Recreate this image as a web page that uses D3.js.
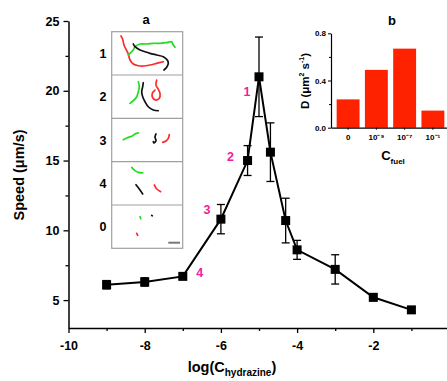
<!DOCTYPE html>
<html>
<head>
<meta charset="utf-8">
<script src="https://cdn.jsdelivr.net/npm/d3@7"></script>
<style>
  body { margin: 0; background: #fff; }
  svg { display: block; font-family: "Liberation Sans", Arial, sans-serif; font-weight: bold; }
</style>
</head>
<body>
<svg id="chart" width="447" height="381"></svg>
<script>
// main plot data
const logC = [-9, -8, -7, -6, -5.3, -5, -4.7, -4.3, -4, -3, -2, -1];
const speed = [6.1, 6.3, 6.7, 10.8, 15.0, 21.0, 15.6, 10.7, 8.6, 7.2, 5.2, 4.3];
const speedErr = [0.3, 0.3, 0.2, 1.05, 1.07, 2.85, 2.1, 1.6, 0.68, 1.05, 0.25, 0.15];
const xTicks = [-10, -8, -6, -4, -2];
const yTicks = [5, 10, 15, 20, 25];
const markLabels = ['1', '2', '3', '4'];
const markAt = [-5, -5.3, -6, -7];

// inset b data
const fuel = ['0', '10⁻⁹', '10⁻⁷', '10⁻¹'];
const diffD = [0.24, 0.49, 0.67, 0.145];
const dTicks = [0.0, 0.4, 0.8];

// inset a: trajectories per panel (panel-local units)
const rows = ['1', '2', '3', '4', '0'];
const tracks = {
  '1': {
    red: [[9.3,4.3],[11,7.6],[12.3,13.3],[15,19],[16.6,22.3],[18.3,28.3],[21.6,32.3],[26.6,34],[31.6,34.3],[38.3,33.3],[45,31.6],[51.6,30]],
    green: [[16.6,23.3],[18.3,21.6],[21.6,18.3],[23.3,15],[28.3,12.3],[35,12.3],[41.6,11.6],[48.3,11.6],[55,11],[60,10],[61,12.3],[63.3,15.6]],
    black: [[21.6,12.3],[23.3,15],[28.3,18.3],[33.3,20],[38.3,21.6],[45,23.3],[51.6,25],[55.6,28.3],[56.6,31.6],[55,35.6],[52.3,38.3]]
  },
  '2': {
    green: [[26.6,6.7],[27.6,11.7],[26.6,16.7],[25,21.7],[21.6,25.7],[18.3,28.3]],
    black: [[31.6,7.7],[31,11.7],[30,16.7],[31,21.7],[33.3,26.7],[36.6,31.7],[41.6,35],[46.6,35.7]],
    red: [[45,5],[44.3,10],[46.6,14.3],[48.3,18.3],[47.6,23.3],[44.3,25],[41,22.7],[40.6,18.3],[43.3,15]]
  },
  '3': {
    green: [[11.6,21.3],[16.6,19],[20,18],[23.3,15.6],[26.6,14.6]],
    black: [[44.3,15.6],[43.3,19],[44.3,22.3],[42.3,24.6],[41.6,23.3]],
    red: [[57.6,16.3],[56.6,20],[54.3,22.6],[51,24]]
  },
  '4': {
    green: [[20,5.7],[23.3,9],[26.6,10.7],[31,11.3]],
    black: [[24.3,23],[27.6,27.3],[31,32.3]],
    red: [[42.6,23.3],[45,27.3],[49,30]]
  },
  '0': {
    green: [[28.3,11.7],[29,13.7]],
    black: [[40,10.3],[40.6,10.8]],
    red: [[25,28.3],[26,30.3]]
  }
};
const trackColors = { red: '#ff2a2a', green: '#22dd22', black: '#111' };

const svg = d3.select('#chart');

// ---------- main plot ----------
const x = d3.scaleLinear().domain([-10, 0]).range([68.5, 449.5]);
const y = d3.scaleLinear().domain([3, 25]).range([328, 21]);

const xAxis = svg.append('g').attr('transform', 'translate(0,328)')
  .call(d3.axisBottom(x).tickValues(xTicks).tickSize(5).tickSizeOuter(0).tickPadding(8).tickFormat(d => String(d)));
svg.append('g').attr('transform', 'translate(0,328)')
  .call(d3.axisBottom(x).tickValues([-9, -7, -5, -3, -1]).tickSize(3).tickFormat(''))
  .call(g => g.select('.domain').remove());
const yAxis = svg.append('g').attr('transform', 'translate(68.5,0)')
  .call(d3.axisLeft(y).tickValues(yTicks).tickSize(5).tickSizeOuter(0).tickPadding(4));
svg.append('g').attr('transform', 'translate(68.5,0)')
  .call(d3.axisLeft(y).tickValues([7.5, 12.5, 17.5, 22.5]).tickSize(3).tickFormat(''))
  .call(g => g.select('.domain').remove());
svg.selectAll('.domain').attr('stroke', '#000').attr('stroke-width', 1.5);
svg.selectAll('.tick line').attr('stroke', '#000').attr('stroke-width', 1.3);
xAxis.selectAll('text').attr('font-size', 12.5).attr('font-weight', 'bold').attr('fill', '#000');
yAxis.selectAll('text').attr('font-size', 12.5).attr('font-weight', 'bold').attr('fill', '#000');

// axis titles
const xt = svg.append('text').attr('x', 232).attr('y', 372).attr('text-anchor', 'middle').attr('font-size', 14.5);
xt.append('tspan').text('log(C');
xt.append('tspan').attr('font-size', 10).attr('dy', 4).text('hydrazine');
xt.append('tspan').attr('dy', -4).text(')');
svg.append('text').attr('transform', 'translate(24,175) rotate(-90)')
  .attr('text-anchor', 'middle').attr('font-size', 14.5).text('Speed (μm/s)');

// line + error bars + markers
const pts = logC.map((c, i) => ({ c, v: speed[i], e: speedErr[i] }));
svg.append('path').datum(pts)
  .attr('d', d3.line().x(d => x(d.c)).y(d => y(d.v)))
  .attr('fill', 'none').attr('stroke', '#000').attr('stroke-width', 2);
const eb = svg.append('g').attr('stroke', '#000').attr('stroke-width', 1.3);
pts.forEach(d => {
  eb.append('line').attr('x1', x(d.c)).attr('x2', x(d.c)).attr('y1', y(d.v - d.e)).attr('y2', y(d.v + d.e));
  [d.v - d.e, d.v + d.e].forEach(v => eb.append('line')
    .attr('x1', x(d.c) - 4).attr('x2', x(d.c) + 4).attr('y1', y(v)).attr('y2', y(v)));
});
svg.append('g').selectAll('rect').data(pts).join('rect')
  .attr('x', d => x(d.c) - 4.5).attr('y', d => y(d.v) - 4.5)
  .attr('width', 9).attr('height', 9).attr('fill', '#000');

// magenta numbers
const labOff = [[-12, 19], [-17, 0], [-14, -5], [17, 1]];
markLabels.forEach((t, i) => {
  const k = logC.indexOf(markAt[i]);
  svg.append('text').attr('x', x(markAt[i]) + labOff[i][0]).attr('y', y(speed[k]) + labOff[i][1])
    .attr('text-anchor', 'middle').attr('font-size', 12.5).attr('fill', '#f0209a').text(t);
});

// ---------- inset a ----------
const ax = d3.scaleLinear().domain([0, 71]).range([111.7, 182.7]);
const rowBand = d3.scaleBand().domain(rows).range([31.7, 248.3]);
const ay = d3.scaleLinear().domain([0, 43.3]).range([0, rowBand.bandwidth()]);
const ia = svg.append('g');
ia.append('rect').attr('x', ax(0)).attr('y', 31.7).attr('width', ax(71) - ax(0)).attr('height', 216.6)
  .attr('fill', '#fff').attr('stroke', '#a0a0a0').attr('stroke-width', 1.2);
rows.slice(1).forEach(r => ia.append('line').attr('x1', ax(0)).attr('x2', ax(71))
  .attr('y1', rowBand(r)).attr('y2', rowBand(r)).attr('stroke', '#a0a0a0').attr('stroke-width', 1.2));
rows.forEach(r => {
  ia.append('text').attr('x', 103).attr('y', rowBand(r) + rowBand.bandwidth() / 2 + 4.5)
    .attr('text-anchor', 'middle').attr('font-size', 12.5).text(r);
  const g = ia.append('g').attr('transform', `translate(0,${rowBand(r)})`);
  Object.entries(tracks[r]).forEach(([col, p]) => {
    g.append('path').datum(p)
      .attr('d', d3.line().x(d => ax(d[0])).y(d => ay(d[1])).curve(d3.curveCatmullRom))
      .attr('fill', 'none').attr('stroke', trackColors[col]).attr('stroke-width', 1.7)
      .attr('stroke-linecap', 'round').attr('stroke-linejoin', 'round');
  });
});
ia.append('line').attr('x1', ax(56.6)).attr('x2', ax(68.3))
  .attr('y1', rowBand('0') + ay(37.7)).attr('y2', rowBand('0') + ay(37.7))
  .attr('stroke', '#777').attr('stroke-width', 2);
ia.append('text').attr('x', 146).attr('y', 24).attr('text-anchor', 'middle').attr('font-size', 13).text('a');

// ---------- inset b ----------
const bx = d3.scaleBand().domain(fuel).range([331, 450]).paddingInner(0.19).paddingOuter(0.2);
const by = d3.scaleLinear().domain([0, 0.8]).range([127.7, 33.3]);
const ib = svg.append('g');
ib.selectAll('rect').data(diffD).join('rect')
  .attr('x', (d, i) => bx(fuel[i])).attr('y', d => by(d))
  .attr('width', bx.bandwidth()).attr('height', d => by(0) - by(d))
  .attr('fill', '#ff2200');
const byAx = ib.append('g').attr('transform', 'translate(331,0)')
  .call(d3.axisLeft(by).tickValues(dTicks).tickSize(3).tickSizeOuter(0).tickPadding(2).tickFormat(d3.format('.1f')));
ib.append('g').attr('transform', 'translate(331,0)')
  .call(d3.axisLeft(by).tickValues([0.2, 0.6]).tickSize(2).tickFormat(''))
  .call(g => g.select('.domain').remove());
const bxAx = ib.append('g').attr('transform', 'translate(0,127.7)')
  .call(d3.axisBottom(bx).tickSize(2).tickSizeOuter(0).tickPadding(5));
ib.selectAll('.domain').attr('stroke', '#000').attr('stroke-width', 1.2);
ib.selectAll('.tick line').attr('stroke', '#000').attr('stroke-width', 1);
byAx.selectAll('text').attr('font-size', 8).attr('font-weight', 'bold').attr('fill', '#000');
bxAx.selectAll('text').attr('font-size', 8).attr('font-weight', 'bold').attr('fill', '#000');

ib.append('text').attr('x', 392).attr('y', 25).attr('text-anchor', 'middle').attr('font-size', 13).text('b');
const dt = ib.append('text').attr('transform', 'translate(309,81) rotate(-90)').attr('text-anchor', 'middle').attr('font-size', 11.5);
dt.append('tspan').text('D (μm');
dt.append('tspan').attr('font-size', 7).attr('dy', -5).text('2');
dt.append('tspan').attr('dy', 5).text(' s');
dt.append('tspan').attr('font-size', 7).attr('dy', -5).text('-1');
dt.append('tspan').attr('dy', 5).text(')');
const ct = ib.append('text').attr('x', 393).attr('y', 160).attr('text-anchor', 'middle').attr('font-size', 13);
ct.append('tspan').text('C');
ct.append('tspan').attr('font-size', 8).attr('dy', 4).text('fuel');
</script>
</body>
</html>
